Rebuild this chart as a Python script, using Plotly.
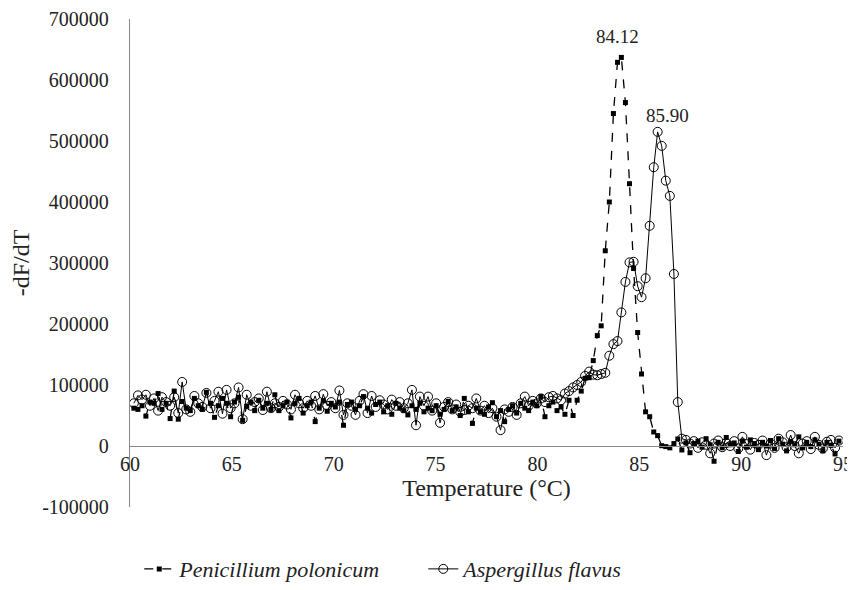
import numpy as np
import plotly.graph_objects as go

# melt curve, temperature grid of the instrument
t_start = 60.19
t_step = 0.1978
n_points = 176
temperature = np.round(t_start + t_step * np.arange(n_points), 2)

# -dF/dT, Penicillium polonicum
penicillium = [
    62000, 60000, 66000, 49000, 72000, 70000, 86000, 60000, 70000, 45000,
    90000, 44000, 73000, 62000, 58000, 78000, 66000, 60000, 88000, 70000,
    47000, 66000, 78000, 70000, 48000, 72000, 80000, 42000, 65000, 72000,
    58000, 75000, 62000, 70000, 60000, 84000, 58000, 66000, 72000, 46000,
    70000, 78000, 54000, 66000, 72000, 40000, 62000, 74000, 57000, 70000,
    64000, 72000, 34000, 68000, 72000, 60000, 66000, 81000, 62000, 54000,
    68000, 72000, 56000, 66000, 52000, 70000, 62000, 58000, 51000, 66000,
    60000, 70000, 56000, 62000, 58000, 66000, 52000, 60000, 73000, 58000,
    64000, 50000, 78000, 56000, 37000, 62000, 56000, 52000, 64000, 71000,
    48000, 58000, 40000, 60000, 66000, 54000, 70000, 62000, 58000, 72000,
    66000, 81000, 48000, 66000, 72000, 58000, 64000, 52000, 75000, 50000,
    75000, 90000, 111000, 112000, 140000, 181000, 197000, 320000, 400000, 545000,
    629000, 637000, 563000, 430000, 291000, 186000, 118000, 56000, 48000, 23000,
    17000, 500, -1000, -3000, 4000, 11500, -6500, 5000, -11000, 4000,
    8000, -2000, 12000, 2000, -25000, 6000, -3000, 14000, 2000, 5000,
    -9000, 8000, -2000, 10000, 4000, -6000, 6000, 0, 9000, -4000,
    12000, 3000, -8000, 7000, 2000, 15000, -3000, 6000, -1000, 10000,
    3000, -8000, 6000, 1000, -13000, 8000,
]

# -dF/dT, Aspergillus flavus
aspergillus = [
    70000, 83000, 76000, 84000, 66000, 78000, 58000, 80000, 72000, 66000,
    80000, 54000, 105000, 60000, 56000, 82000, 70000, 64000, 87000, 62000,
    74000, 89000, 53000, 92000, 62000, 70000, 96000, 44000, 84000, 66000,
    72000, 78000, 59000, 89000, 62000, 70000, 64000, 74000, 68000, 60000,
    84000, 70000, 62000, 74000, 66000, 82000, 60000, 85000, 66000, 72000,
    62000, 91000, 51000, 70000, 66000, 51000, 74000, 85000, 54000, 82000,
    64000, 75000, 68000, 60000, 76000, 66000, 72000, 62000, 70000, 92000,
    34000, 81000, 66000, 81000, 58000, 70000, 38000, 64000, 72000, 60000,
    68000, 56000, 59000, 66000, 62000, 78000, 58000, 66000, 54000, 62000,
    48000, 26000, 60000, 56000, 64000, 51000, 70000, 81000, 66000, 74000,
    70000, 78000, 72000, 80000, 82000, 78000, 75000, 86000, 90000, 96000,
    100000, 105000, 115000, 122000, 117000, 116000, 118000, 120000, 148000, 167000,
    172000, 219000, 269000, 301000, 302000, 262000, 244000, 275000, 361000, 457000,
    515000, 492000, 435000, 410000, 282000, 72000, 12000, 10000, 4000, 8000,
    -3000, 6000, 2000, -12000, 4000, 9000, -2000, 5000, 0, 8000,
    -4000, 15000, 3000, -6000, 5000, 2000, 9000, -15000, 4000, -3000,
    12000, 6000, -2000, 18000, 0, -12000, 4000, 8000, -5000, 15000,
    2000, -4000, 7000, 10000, -3000, 9000,
]

x_ticks = [60, 65, 70, 75, 80, 85, 90, 95]
y_ticks = [-100000, 0, 100000, 200000, 300000, 400000, 500000, 600000, 700000]
y_labels = [str(v) for v in y_ticks]

font = "Liberation Serif, Times New Roman, serif"

fig = go.Figure()
fig.add_trace(go.Scatter(
    x=temperature, y=penicillium, mode="lines+markers",
    name="<i>Penicillium polonicum</i>",
    line=dict(color="black", width=1.3, dash="dash"),
    marker=dict(symbol="square", size=5, color="black"),
))
fig.add_trace(go.Scatter(
    x=temperature, y=aspergillus, mode="lines+markers",
    name="<i>Aspergillus flavus</i>",
    line=dict(color="black", width=1),
    marker=dict(symbol="circle-open", size=9, color="black",
                line=dict(width=1)),
))

# peak labels
for series, dx, dy in ((penicillium, -4, 21), (aspergillus, 10, 16)):
    k = int(np.argmax(series))
    fig.add_annotation(x=temperature[k], y=series[k], text=f"{temperature[k]:.2f}",
                       showarrow=False, xshift=dx, yshift=dy,
                       font=dict(family=font, size=19, color="#222"))

# the page body adds an 8px offset, margins are set to compensate
fig.update_layout(
    width=855, height=590,
    margin=dict(l=122, r=20, t=11, b=91),
    plot_bgcolor="white", paper_bgcolor="white",
    font=dict(family=font, size=20, color="#222"),
    showlegend=True,
    legend=dict(orientation="h", x=0.013, xanchor="left",
                yref="container", y=0.049, yanchor="middle",
                itemwidth=30, entrywidth=239,
                font=dict(family=font, size=22, color="#222")),
)
fig.update_xaxes(
    range=[60, 95], tickvals=x_ticks, showgrid=False, zeroline=False,
    showline=True, linecolor="#888", linewidth=1.3,
    anchor="free", position=0.125, ticks="", automargin=False,
    title=dict(text="Temperature (°C)", standoff=2, font=dict(size=24)),
)
fig.update_yaxes(
    range=[-100000, 700000], tickvals=y_ticks, ticktext=y_labels,
    showgrid=False, zeroline=False, showline=True, linecolor="#888",
    linewidth=1.3, ticks="", ticklabelstandoff=16, automargin=False,
    title=dict(text="-dF/dT", standoff=23, font=dict(size=24)),
)

fig.write_html("out.html")
